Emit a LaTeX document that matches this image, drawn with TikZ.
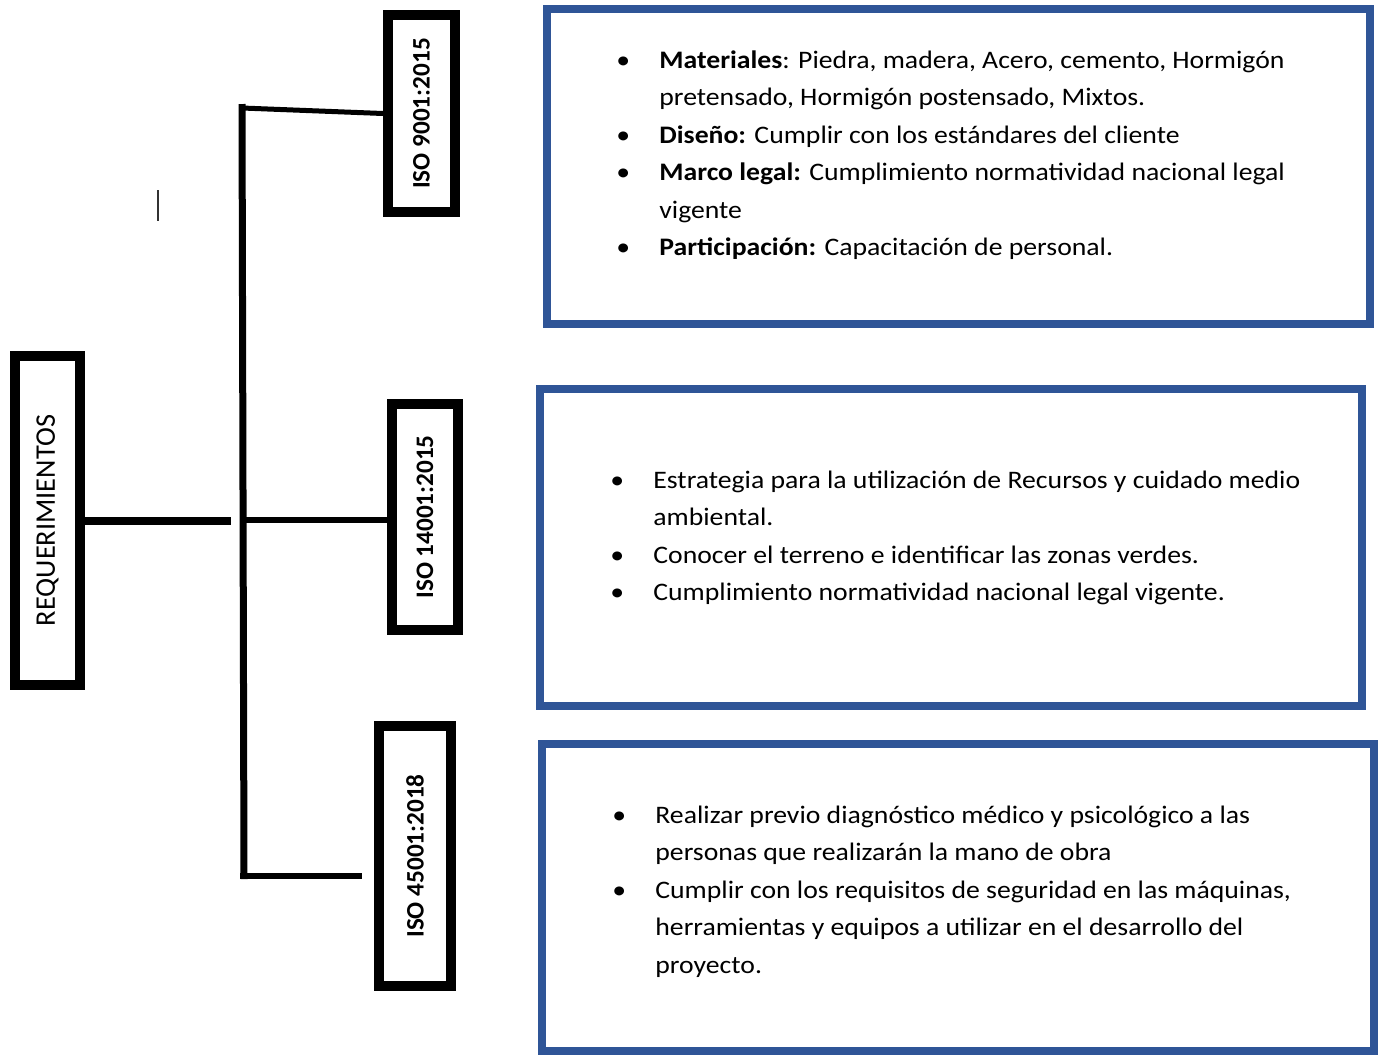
\documentclass[tikz,border=0pt]{standalone}
\usepackage{fontspec}
\setmainfont{Carlito}[FakeStretch=1.1]
\newfontfamily\lblfont{Carlito}
\definecolor{figBl}{RGB}{47,85,151}
\newcommand\bulitem{\makebox[21.5pt][l]{\textbullet}}
\newcommand\bulcont{\hspace*{21.5pt}}

\begin{document}
\begin{tikzpicture}[x=0.5pt,y=-0.5pt,
  isobox/.style={draw,line width=5pt,inner sep=0pt,font=\lblfont\fontsize{12.6}{15}\selectfont\bfseries},
  listbox/.style={draw=figBl,line width=4pt,inner sep=0pt},
  listtext/.style={anchor=base west,inner sep=0pt,align=left,font=\fontsize{12.6}{18.75}\selectfont}]
\useasboundingbox (0,0) rectangle (1379,1055);
% left side
\node[isobox,font=\lblfont\fontsize{14.2}{16}\selectfont,minimum width=32.5pt,minimum height=164.5pt] (req) at (47.5,520.5) {\rotatebox{90}{REQUERIMIENTOS}};
\node[isobox,minimum width=33.5pt,minimum height=98.5pt] (iso9) at (421.5,113.5) {\rotatebox{90}{ISO 9001:2015}};
\node[isobox,minimum width=33pt,minimum height=113pt] (iso14) at (425,517) {\rotatebox{90}{ISO 14001:2015}};
\node[isobox,minimum width=36pt,minimum height=130pt] (iso45) at (415,856) {\rotatebox{90}{ISO 45001:2018}};
\coordinate (spinetop) at (242,104);
\coordinate (spinebot) at (244,879);
\coordinate (reqend) at (231,520.5);
\coordinate (b9) at (242,108);
\coordinate (b14) at (245,520);
\coordinate (b45) at (240,876);
\coordinate (b45end) at (362,876);
\draw[line width=3.5pt] (spinetop) -- (spinebot);
\draw[line width=2.5pt] (b9) -- (iso9.west);
\draw[line width=4pt] (req.east) -- (reqend);
\draw[line width=3pt] (b14) -- (b14 -| iso14.west);
\draw[line width=3pt] (b45) -- (b45end);
\draw[line width=1.2pt,black!80] (158,190) -- (158,221);
% right side
\node[listbox,minimum width=411.5pt,minimum height=157.5pt] (list9) at (958.5,166.5) {};
\node[listbox,minimum width=411pt,minimum height=158.5pt] (list14) at (951,547.5) {};
\node[listbox,minimum width=416pt,minimum height=153.5pt] (list45) at (958,897.5) {};
\node[listtext] (txt9) at (616,255.5) {\bulitem\textbf{Materiales}: Piedra, madera, Acero, cemento, Hormigón\\
\bulcont pretensado, Hormigón postensado, Mixtos.\\
\bulitem\textbf{Diseño:} Cumplir con los estándares del cliente\\
\bulitem\textbf{Marco legal:} Cumplimiento normatividad nacional legal\\
\bulcont vigente\\
\bulitem\textbf{Participación:} Capacitación de personal.};
\node[listtext] (txt14) at (610,600.5) {\bulitem Estrategia para la utilización de Recursos y cuidado medio\\
\bulcont ambiental.\\
\bulitem Conocer el terreno e identificar las zonas verdes.\\
\bulitem Cumplimiento normatividad nacional legal vigente.};
\node[listtext] (txt45) at (612,973) {\bulitem Realizar previo diagnóstico médico y psicológico a las\\
\bulcont personas que realizarán la mano de obra\\
\bulitem Cumplir con los requisitos de seguridad en las máquinas,\\
\bulcont herramientas y equipos a utilizar en el desarrollo del\\
\bulcont proyecto.};
\end{tikzpicture}
\end{document}
